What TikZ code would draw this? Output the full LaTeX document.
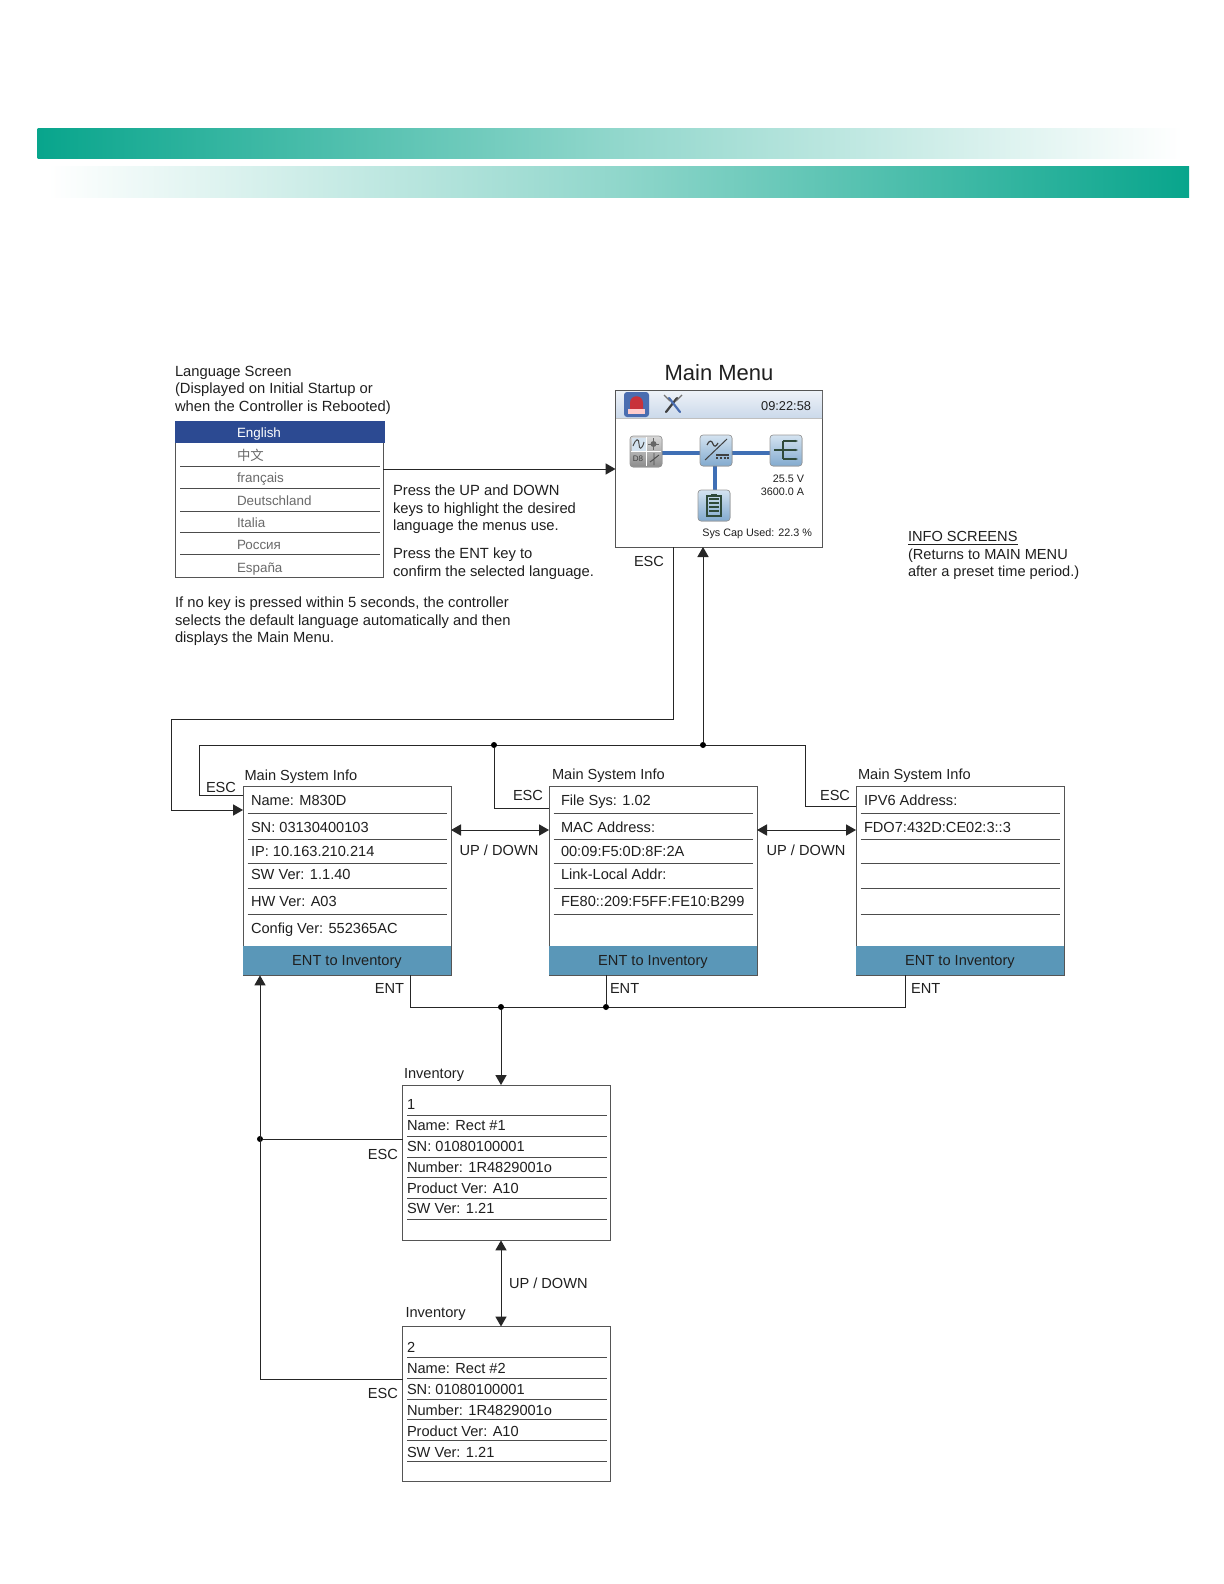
\documentclass[tikz,border=0pt]{standalone}
\usepackage{fontspec}
\setmainfont{Liberation Sans}
\newfontfamily\cjkfont{Noto Sans CJK SC}
\usetikzlibrary{arrows.meta,calc}
\definecolor{barteal}{HTML}{08A58C}
\definecolor{entblue}{HTML}{5A97B8}
\definecolor{navy}{HTML}{2C4A92}
\definecolor{linegray}{HTML}{555555}
\definecolor{wire}{HTML}{3F6FB5}
\definecolor{langtext}{HTML}{6A6A6A}
\definecolor{icontop}{HTML}{D4E3F0}
\definecolor{iconbot}{HTML}{82AACF}
\definecolor{tooltop}{HTML}{EEF2F8}
\definecolor{toolbot}{HTML}{CBD9EA}
\definecolor{alarmbg}{HTML}{4A6DB0}
\definecolor{alarmred}{HTML}{C8323A}
\definecolor{icondark}{HTML}{2F4A3A}
\tikzset{
  x=0.5pt,y=-0.5pt,
  txt/.style={anchor=base west,inner sep=0pt,outer sep=0pt,font=\fontsize{7.3pt}{8.5pt}\selectfont,text=black!88},
  wtxt/.style={txt,font=\fontsize{7.38pt}{8.5pt}\selectfont},
  ctxt/.style={txt,anchor=base},
  rtxt/.style={txt,anchor=base east},
  small/.style={font=\fontsize{5.4pt}{6.5pt}\selectfont},
  langitem/.style={txt,text=langtext,font=\fontsize{6.7pt}{8pt}\selectfont},
  screen/.style={draw=linegray,line width=0.5pt,fill=white,inner sep=0pt,outer sep=0pt,anchor=north west,minimum width=104pt},
  infobox/.style={screen,minimum height=94.5pt},
  invbox/.style={screen,minimum height=77.7pt},
  entbar/.style={fill=entblue,inner sep=0pt,outer sep=0pt,anchor=north west,minimum width=104pt,minimum height=14.7pt},
  sep/.style={draw=black!70,line width=0.45pt},
  conn/.style={draw=black!85,line width=0.5pt},
  tip/.style={-{Triangle[length=5pt,width=5.6pt]}},
  dtip/.style={{Triangle[length=5pt,width=5.6pt]}-{Triangle[length=5pt,width=5.6pt]}},
  jdot/.style={circle,fill=black,inner sep=0pt,minimum size=3pt,outer sep=0pt},
  iconbg/.style={rounded corners=1.5pt,draw=black!40,line width=0.3pt,top color=icontop,bottom color=iconbot},
  wireline/.style={draw=wire,line width=1.7pt},
}
\begin{document}
\begin{tikzpicture}
\useasboundingbox (0,0) rectangle (1224,1584);
% header bars
\shade[left color=barteal,right color=white,middle color=barteal!45!white] (37.5,128.5) rectangle (1182,158.5);
\shade[left color=white,right color=barteal,middle color=barteal!45!white] (48,166) rectangle (1189,197);

% language screen
\node[wtxt] (lt1) at (175,376) {Language Screen};
\node[wtxt] (lt2) at (175,393) {(Displayed on Initial Startup or};
\node[wtxt] (lt3) at (175,411) {when the Controller is Rebooted)};
\node[screen,minimum height=78pt] (lang) at (175,421) {};
\fill[navy] (175,421) rectangle (385,443);
\node[langitem,text=white] (l1) at (237,437) {English};
\node[langitem,font=\cjkfont\fontsize{6.7pt}{8pt}\selectfont] (l2) at (237,460) {中文};
\node[langitem] (l3) at (237,482) {français};
\node[langitem] (l4) at (237,505) {Deutschland};
\node[langitem] (l5) at (237,527) {Italia};
\node[langitem] (l6) at (237,549) {Россия};
\node[langitem] (l7) at (237,572) {España};
\foreach \y in {466,488,511,532,554} \draw[sep] (180,\y) -- (380,\y);
\node[wtxt] (p1) at (393,495) {Press the UP and DOWN};
\node[wtxt] (p2) at (393,513) {keys to highlight the desired};
\node[wtxt] (p3) at (393,530) {language the menus use.};
\node[wtxt] (p4) at (393,558) {Press the ENT key to};
\node[wtxt] (p5) at (393,576) {confirm the selected language.};
\node[wtxt] (n1) at (175,607) {If no key is pressed within 5 seconds, the controller};
\node[wtxt] (n2) at (175,625) {selects the default language automatically and then};
\node[wtxt] (n3) at (175,642) {displays the Main Menu.};

% main menu
\node[ctxt,font=\fontsize{11pt}{13pt}\selectfont] (mt) at (719,380) {Main Menu};
\node[screen,minimum width=103.5pt,minimum height=78.5pt] (menu) at (615.5,390) {};
\shade[top color=tooltop,bottom color=toolbot] (616,390.5) rectangle (822.2,418);
\draw[draw=black!25,line width=0.3pt] (616,418) -- (822.2,418);
\draw[linegray,line width=0.5pt] (615.5,390) -- (822.5,390);
% alarm icon
\fill[rounded corners=1.5pt,alarmbg] (624,392) rectangle (649,417);
\fill[alarmred] (630,410) -- (630,403) .. controls (630,394) and (643,394) .. (643,403) -- (643,410) -- cycle;
\fill[white!80!red] (628,409) rectangle (645,414);
% tools icon
\draw[line width=1.1pt,black!75,line cap=round] (666,412) -- (677,398);
\draw[line width=1.1pt,alarmbg,line cap=round] (680,412) -- (669,398);
\draw[line width=0.6pt,black!55] (664,395) -- (670,401) (682,395) -- (676,401);
\node[rtxt,font=\fontsize{6.4pt}{7.5pt}\selectfont] (clock) at (811,410) {09:22:58};
% diagram wires
\draw[wireline] (662,453) -- (700,453);
\draw[wireline] (732,453) -- (770,453);
\draw[wireline] (715,466) -- (715,490);
% source icon
\filldraw[iconbg,top color=black!15,bottom color=black!45] (630,436) rectangle (662,467);
\draw[white,line width=0.4pt] (646,437) -- (646,466) (631,451.5) -- (661,451.5);
\fill[icontop] (631.5,437.5) rectangle (645.5,451);
\draw[black!70,line width=0.5pt] (633,446) .. controls (636,438) and (639,438) .. (639,444) .. controls (639,450) and (642,450) .. (644,442);
\fill[black!60] (653.5,444) circle[radius=3];
\draw[black!60,line width=0.4pt] (653.5,438) -- (653.5,450) (648,444) -- (659,444);
\node[inner sep=0pt,font=\fontsize{4pt}{5pt}\selectfont,text=black!75] (dgicon) at (638,459) {D8};
\draw[black!70,line width=0.45pt] (654,453) -- (654,465) (654,459) -- (659,455) (654,459) -- (650,462);
% converter icon
\filldraw[iconbg] (700,435) rectangle (732,466);
\draw[black!75,line width=0.6pt] (707,445) .. controls (709,440) and (712,440) .. (713,444) .. controls (714,447) and (716,447) .. (718,443);
\draw[black!75,line width=0.5pt] (705,460) -- (727,439);
\draw[black!75,line width=0.6pt] (716,455) -- (729,455);
\draw[black!75,line width=0.6pt,dash pattern=on 1.2pt off 0.7pt] (716,458) -- (729,458);
% distribution icon
\filldraw[iconbg] (770,435) rectangle (802,466);
\draw[icondark,line width=0.7pt] (774,450) -- (783,450) (783,441) -- (783,459);
\draw[icondark,line width=0.7pt,-{Stealth[length=1.5pt]}] (783,441) -- (798,441);
\draw[icondark,line width=0.7pt,-{Stealth[length=1.5pt]}] (783,450) -- (798,450);
\draw[icondark,line width=0.7pt,-{Stealth[length=1.5pt]}] (783,459) -- (798,459);
% battery icon
\filldraw[iconbg] (698,490) rectangle (730,521);
\draw[icondark,line width=0.6pt] (707,496) rectangle (721,516);
\fill[icondark] (711,494) rectangle (717,496);
\foreach \y in {499,503,507,511} \draw[icondark,line width=0.7pt] (709,\y) -- (719,\y);
\node[rtxt,small] (v) at (804,482) {25.5 V};
\node[rtxt,small] (a) at (804,495) {3600.0 A};
\node[rtxt,small] (cap) at (812,536) {Sys Cap Used: 22.3 \%};

% info note
\node[txt] (i1) at (908,541) {\underline{INFO SCREENS}};
\node[txt] (i2) at (908,559) {(Returns to MAIN MENU};
\node[txt] (i3) at (908,576) {after a preset time period.)};

% main system info boxes
\node[infobox] (info1) at (243,786) {};
\node[infobox] (info2) at (549,786) {};
\node[infobox] (info3) at (856,786) {};
\foreach \n/\xa in {1/243,2/549,3/856}{
  \node[entbar] (ent\n) at (\xa,946) {};
  \node[ctxt] (entlabel\n) at (ent\n.center |- 0,965) {ENT to Inventory};
  \foreach \y in {813.5,839.5,863,888,914}
    \draw[sep] ($(\xa,\y)+(4.5,0)$) -- ($(\xa,\y)+(203.5,0)$);
}
\node[txt] (t1) at (244.5,780) {Main System Info};
\node[txt] (t2) at (552,779) {Main System Info};
\node[txt] (t3) at (858,779) {Main System Info};
\foreach \k/\y/\s in {a/805/{Name: M830D},b/832/{SN: 03130400103},c/856/{IP: 10.163.210.214},d/879/{SW Ver: 1.1.40},e/906/{HW Ver: A03},f/933/{Config Ver: 552365AC}}
  \node[txt] (ia\k) at (251,\y) {\s};
\foreach \k/\y/\s in {a/805/{File Sys: 1.02},b/832/{MAC Address:},c/856/{00:09:F5:0D:8F:2A},d/879/{Link-Local Addr:},e/906/{FE80::209:F5FF:FE10:B299}}
  \node[txt] (ib\k) at (561,\y) {\s};
\node[txt] (ica) at (864,805) {IPV6 Address:};
\node[txt] (icb) at (864,832) {FDO7:432D:CE02:3::3};

% inventory boxes
\node[invbox] (inv1) at (402.5,1085) {};
\node[invbox] (inv2) at (402.5,1326.5) {};
\node[txt] (it1) at (404,1078) {Inventory};
\node[txt] (it2) at (405.5,1317.5) {Inventory};
\foreach \y in {1115,1136,1157,1177,1198,1219,1357,1378,1399,1419,1440,1461}
  \draw[sep] (407,\y) -- (607,\y);
\foreach \k/\y/\s in {a/1109/{1},b/1130/{Name: Rect \#1},c/1151/{SN: 01080100001},d/1172/{Number: 1R4829001o},e/1193/{Product Ver: A10},f/1213/{SW Ver: 1.21}}
  \node[txt] (ja\k) at (407,\y) {\s};
\foreach \k/\y/\s in {a/1352/{2},b/1373/{Name: Rect \#2},c/1394/{SN: 01080100001},d/1415/{Number: 1R4829001o},e/1436/{Product Ver: A10},f/1457/{SW Ver: 1.21}}
  \node[txt] (jb\k) at (407,\y) {\s};

% routing points
\coordinate (ca) at (616,469);
\coordinate (escm) at (673,719.5);
\coordinate (lc) at (171,810);
\coordinate (e1) at (199,795);
\coordinate (e2) at (494,808);
\coordinate (e3) at (805,806);
\coordinate (ud) at (500,830);
\coordinate (bus) at (703,745);
\coordinate (ebus) at (501,1007);
\coordinate (s1) at (410,1007);
\coordinate (s2) at (606,1007);
\coordinate (s3) at (905,1007);
\coordinate (f1) at (260,1139);
\coordinate (f2) at (260,1379);
\coordinate (ud2) at (501,1280);

% connectors
\draw[conn,tip] (lang.east |- ca) -- (menu.west |- ca);
\draw[conn,tip] (menu.south -| escm) -- (escm) -- (lc |- escm) -- (lc) -- (info1.west |- lc);
\draw[conn] (info1.west |- e1) -- (e1) -- (e1 |- bus) -- (e3 |- bus) -- (e3) -- (info3.west |- e3);
\node[jdot] (j1) at (e2 |- bus) {};
\node[jdot] (j2) at (bus) {};
\draw[conn] (j1) -- (e2) -- (info2.west |- e2);
\draw[conn,tip] (j2) -- (menu.south -| j2);
\draw[conn,dtip] (info1.east |- ud) -- (info2.west |- ud);
\draw[conn,dtip] (info2.east |- ud) -- (info3.west |- ud);
\draw[conn] (ent1.south -| s1) -- (s1) -- (s3) -- (ent3.south -| s3);
\node[jdot] (j3) at (ebus) {};
\node[jdot] (j4) at (s2) {};
\draw[conn] (ent2.south -| s2) -- (j4);
\draw[conn,tip] (j3) -- (inv1.north -| j3);
\draw[conn,dtip] (inv1.south -| ud2) -- (inv2.north -| ud2);
\node[jdot] (j5) at (f1) {};
\draw[conn,tip] (inv2.west |- f2) -- (f2) -- (ent1.south -| f2);
\draw[conn] (inv1.west |- f1) -- (j5);

% connector labels
\node[txt] (m1) at (634,566) {ESC};
\node[txt] (m2) at (206,792) {ESC};
\node[txt] (m3) at (513,800) {ESC};
\node[txt] (m4) at (820,800) {ESC};
\node[ctxt] (m5) at (499,855) {UP / DOWN};
\node[ctxt] (m6) at (806,855) {UP / DOWN};
\node[rtxt] (m7) at (404,993) {ENT};
\node[txt] (m8) at (610,993) {ENT};
\node[txt] (m9) at (911,993) {ENT};
\node[rtxt] (m10) at (398,1159) {ESC};
\node[rtxt] (m11) at (398,1398) {ESC};
\node[txt] (m12) at (509,1288) {UP / DOWN};
\end{tikzpicture}
\end{document}
